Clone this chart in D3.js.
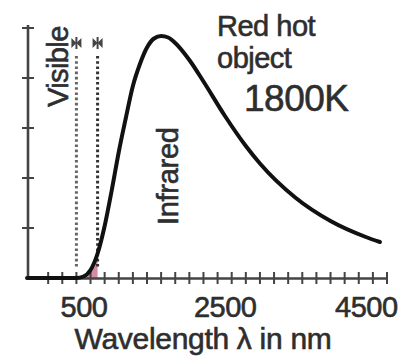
<!DOCTYPE html>
<html>
<head>
<meta charset="utf-8">
<script src="https://cdn.jsdelivr.net/npm/d3@7"></script>
<style>
  html, body { margin: 0; padding: 0; background: #fff; }
  svg { display: block; }
  text { font-family: "Liberation Sans", Arial, Helvetica, sans-serif; fill: #2e2e2e; stroke: #2e2e2e; stroke-width: 0.6px; }
</style>
</head>
<body>
<script>
// Spectral radiance of a red hot object at 1800 K (relative units, one unit per y tick)
const wavelengths = [0, 300, 400, 500, 600, 700, 800, 900, 1000, 1100, 1200, 1300, 1400, 1500,
                     1600, 1700, 1800, 2000, 2200, 2500, 2800, 3000, 3500, 4000, 4500, 4700];
const radiance    = [0, 0, 0, 0.03, 0.16, 0.49, 1.04, 1.75, 2.52, 3.2, 3.84, 4.28, 4.61, 4.79,
                     4.84, 4.81, 4.70, 4.36, 3.93, 3.25, 2.64, 2.29, 1.61, 1.14, 0.82, 0.72];
// Visible band (nm)
const visibleBand = [400, 700];
// Axis ticks
const xMinorTicks = d3.range(0, 4801, 200);
const xTickLabels = [500, 2500, 4500];
const yTicks = [1, 2, 3, 4, 5];
// Annotations
const titleLines = ["Red hot", "object"];
const tempLabel = "1800K";
const xTitle = "Wavelength \u03bb in nm";

const W = 401, H = 361;
const svg = d3.select("body").append("svg").attr("width", W).attr("height", H);
svg.append("rect").attr("width", W).attr("height", H).attr("fill", "#fff");

const x = d3.scaleLinear().domain([-300, 4800]).range([27, 387]);
const y = d3.scaleLinear().domain([0, 5]).range([278, 28]);

const pts = wavelengths.map((w, i) => ({ w, v: radiance[i] }));

// Shaded visible portion under the curve
const area = d3.area()
  .x(d => x(d.w)).y0(y(0)).y1(d => y(d.v))
  .curve(d3.curveMonotoneX);
svg.append("path")
  .datum(pts.filter(d => d.w >= visibleBand[0] && d.w <= visibleBand[1]))
  .attr("d", area)
  .attr("fill", "#b8405e")
  .attr("fill-opacity", 0.6);

// Dotted boundaries of the visible band
const bandTop = 56, bandBottom = 268;
visibleBand.forEach((w, i) => {
  svg.append("line")
    .attr("x1", x(w)).attr("x2", x(w))
    .attr("y1", bandTop).attr("y2", bandBottom)
    .attr("stroke", i === 0 ? "#666" : "#333")
    .attr("stroke-width", 3)
    .attr("stroke-dasharray", "2.6,2.6");
  // small bow-tie arrow heads above each boundary
  const cx = x(w), cy = 43;
  svg.append("path")
    .attr("d", `M${cx - 5},${cy - 5} L${cx},${cy} L${cx - 5},${cy + 5} Z M${cx + 5},${cy - 5} L${cx},${cy} L${cx + 5},${cy + 5} Z`)
    .attr("fill", "#444");
  svg.append("line")
    .attr("x1", cx).attr("x2", cx).attr("y1", cy - 6).attr("y2", cy + 6)
    .attr("stroke", "#444").attr("stroke-width", 2);
});

// Axes
const axisColor = "#444";
const gx = svg.append("g").attr("transform", `translate(0,${y(0)})`)
  .call(d3.axisBottom(x).tickValues([]).tickSizeOuter(0));
gx.select(".domain").attr("stroke", axisColor).attr("stroke-width", 2.6);

// crossing minor ticks on the x axis
const xTickPath = xMinorTicks.map(d => `M${x(d)},${y(0) - 6}V${y(0) + 6}`).join("");
svg.append("path")
  .attr("class", "x-minor-ticks")
  .attr("d", xTickPath)
  .attr("fill", "none")
  .attr("stroke", axisColor)
  .attr("stroke-width", 2);

const gy = svg.append("g").attr("transform", `translate(${x(-300) + 1},0)`)
  .call(d3.axisLeft(y).tickValues([]).tickSizeOuter(0));
gy.select(".domain").attr("d", `M0,${y(0)}V${y(5) - 3}`)
  .attr("stroke", axisColor).attr("stroke-width", 2.6);

svg.append("g").selectAll("line")
  .data(yTicks)
  .join("line")
  .attr("x1", x(-300) + 1 - 6).attr("x2", x(-300) + 1 + 6)
  .attr("y1", d => y(d)).attr("y2", d => y(d))
  .attr("stroke", axisColor).attr("stroke-width", 2);

const gl = svg.append("g").attr("transform", `translate(0,${y(0)})`)
  .call(d3.axisBottom(x).tickValues(xTickLabels).tickFormat(d3.format("d")).tickSize(0).tickPadding(0));
gl.select(".domain").remove();
gl.selectAll("text")
  .attr("dy", null).attr("y", 39)
  .style("font-size", "29px")
  .style("font-family", "'Liberation Sans', Arial, sans-serif")
  .style("letter-spacing", "-0.5px")
  .attr("fill", "#2e2e2e");

// Curve, running along the baseline from the vertical axis
const line = d3.line().x(d => x(d.w)).y(d => y(d.v)).curve(d3.curveMonotoneX);
svg.append("path")
  .datum([{ w: x.domain()[0], v: 0 }, ...pts])
  .attr("d", line)
  .attr("fill", "none")
  .attr("stroke", "#111")
  .attr("stroke-width", 4)
  .attr("stroke-linejoin", "round")
  .attr("stroke-linecap", "round");

// Labels
svg.append("text")
  .attr("transform", "translate(68,107) rotate(-90)")
  .style("font-size", "29px")
  .style("letter-spacing", "-0.6px")
  .text("Visible");

svg.append("text")
  .attr("transform", "translate(178,225) rotate(-90)")
  .style("font-size", "29px")
  .style("letter-spacing", "-0.3px")
  .text("Infrared");

svg.selectAll(".title")
  .data(titleLines)
  .join("text")
  .attr("class", "title")
  .attr("x", 217)
  .attr("y", (d, i) => 36 + i * 32)
  .style("font-size", "29px")
  .style("letter-spacing", "-0.5px")
  .text(d => d);

svg.append("text")
  .attr("x", 244).attr("y", 111)
  .style("font-size", "37px")
  .style("letter-spacing", "-0.5px")
  .text(tempLabel);

svg.append("text")
  .attr("x", 203).attr("y", 349)
  .attr("text-anchor", "middle")
  .style("font-size", "30px")
  .style("letter-spacing", "-0.3px")
  .text(xTitle);
</script>
</body>
</html>
